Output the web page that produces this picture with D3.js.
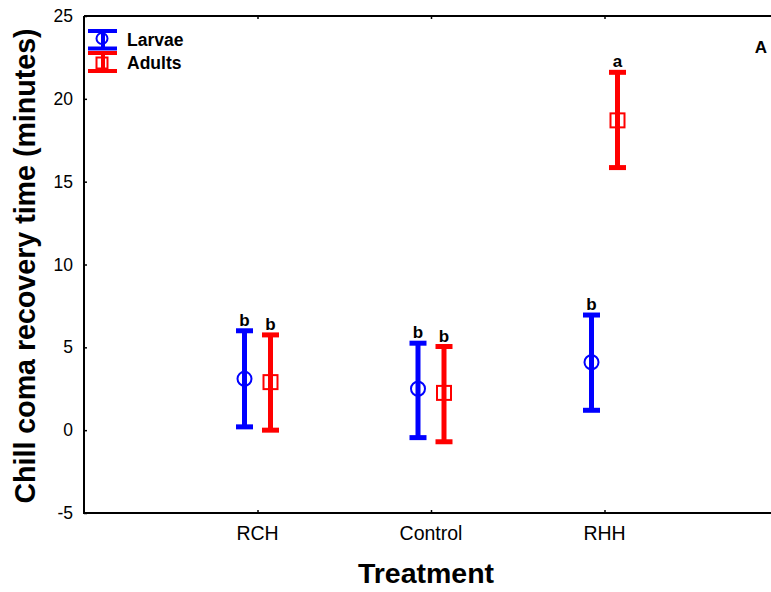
<!DOCTYPE html>
<html>
<head>
<meta charset="utf-8">
<script src="https://cdn.jsdelivr.net/npm/d3@7"></script>
<style>
  body { margin: 0; background: #fff; }
  svg { display: block; font-family: 'Liberation Sans', Arial, sans-serif; }
</style>
</head>
<body>
<svg width="771" height="592"></svg>
<script>
// chart data
const categories = ['RCH', 'Control', 'RHH']
const seriesNames = ['Larvae', 'Adults']
const larvaeMean = [3.1, 2.5, 4.1]
const larvaeLow = [0.2, -0.45, 1.2]
const larvaeHigh = [6.0, 5.25, 6.95]
const adultsMean = [2.9, 2.25, 18.7]
const adultsLow = [0.0, -0.7, 15.85]
const adultsHigh = [5.75, 5.05, 21.6]
const larvaeLetters = ['b', 'b', 'b']
const adultsLetters = ['b', 'b', 'a']
const yTicks = [-5, 0, 5, 10, 15, 20, 25]

const colors = { Larvae: '#0000ff', Adults: '#ff0000' }

const svg = d3.select('svg')

// plot area (right side runs off the page like in the figure)
const plotLeft = 84, plotTop = 16, plotBottom = 513, plotRight = 778

const x = d3.scaleLinear().domain([0, 4]).range([plotLeft, plotRight])
const offset = d3.scalePoint().domain(seriesNames).range([-13, 13])
const y = d3.scaleLinear().domain([-5, 25]).range([plotBottom, plotTop])

// build rows for each series
const rows = []
categories.forEach((c, i) => {
  rows.push({ s: 'Larvae', i, mean: larvaeMean[i], low: larvaeLow[i], high: larvaeHigh[i], letter: larvaeLetters[i] })
  rows.push({ s: 'Adults', i, mean: adultsMean[i], low: adultsLow[i], high: adultsHigh[i], letter: adultsLetters[i] })
})

// axes: left (ticks inward), bottom (ticks inward), top border with ticks
const yAxis = svg.append('g')
  .attr('transform', `translate(${plotLeft},0)`)
  .call(d3.axisRight(y).tickValues(yTicks).tickSize(3).tickFormat(''))
yAxis.select('.domain').remove()
yAxis.selectAll('line').attr('stroke', '#000').attr('stroke-width', 1.5)

svg.append('g').selectAll('text')
  .data(yTicks)
  .join('text')
  .attr('x', plotLeft - 11)
  .attr('y', (d) => y(d) + 6)
  .attr('text-anchor', 'end')
  .attr('font-size', 17.5)
  .text((d) => d)

const xAxis = svg.append('g')
  .attr('transform', `translate(0,${plotBottom})`)
  .call(d3.axisTop(x).tickValues([1, 2, 3]).tickSize(3).tickFormat(''))
xAxis.select('.domain').remove()
xAxis.selectAll('line').attr('stroke', '#000').attr('stroke-width', 1.5)

const xTop = svg.append('g')
  .attr('transform', `translate(0,${plotTop})`)
  .call(d3.axisBottom(x).tickValues([1, 2, 3]).tickSize(3).tickFormat(''))
xTop.select('.domain').remove()
xTop.selectAll('line').attr('stroke', '#000').attr('stroke-width', 1.5)

svg.append('g').selectAll('text')
  .data(categories)
  .join('text')
  .attr('x', (d, i) => x(i + 1))
  .attr('y', 540)
  .attr('text-anchor', 'middle')
  .attr('font-size', 19.5)
  .text((d) => d)

// frame
svg.append('path')
  .attr('d', `M${plotLeft},${plotTop}H${plotRight}M${plotLeft},${plotTop}V${plotBottom}H${plotRight}`)
  .attr('fill', 'none')
  .attr('stroke', '#000')
  .attr('stroke-width', 2)

// axis titles
svg.append('text')
  .attr('x', 426)
  .attr('y', 583)
  .attr('text-anchor', 'middle')
  .attr('font-size', 28.5)
  .attr('font-weight', 'bold')
  .text('Treatment')

svg.append('text')
  .attr('transform', 'translate(35,266) rotate(-90)')
  .attr('text-anchor', 'middle')
  .attr('font-size', 28.6)
  .attr('font-weight', 'bold')
  .text('Chill coma recovery time (minutes)')

// error bars
const capW = 17
const bars = svg.append('g').selectAll('g')
  .data(rows)
  .join('g')
  .attr('stroke', (d) => colors[d.s])
  .attr('fill', 'none')

bars.append('line')
  .attr('x1', (d) => x(d.i + 1) + offset(d.s))
  .attr('x2', (d) => x(d.i + 1) + offset(d.s))
  .attr('y1', (d) => y(d.low))
  .attr('y2', (d) => y(d.high))
  .attr('stroke-width', 5)

bars.selectAll('.cap')
  .data((d) => [d, d].map((r, k) => ({ r, v: k ? r.high : r.low })))
  .join('line')
  .attr('class', 'cap')
  .attr('x1', (d) => x(d.r.i + 1) + offset(d.r.s) - capW / 2)
  .attr('x2', (d) => x(d.r.i + 1) + offset(d.r.s) + capW / 2)
  .attr('y1', (d) => y(d.v))
  .attr('y2', (d) => y(d.v))
  .attr('stroke-width', 5)

// markers
bars.filter((d) => d.s === 'Larvae').append('circle')
  .attr('cx', (d) => x(d.i + 1) + offset(d.s))
  .attr('cy', (d) => y(d.mean))
  .attr('r', 7)
  .attr('stroke-width', 2)

bars.filter((d) => d.s === 'Adults').append('rect')
  .attr('x', (d) => x(d.i + 1) + offset(d.s) - 7)
  .attr('y', (d) => y(d.mean) - 7)
  .attr('width', 14)
  .attr('height', 14)
  .attr('stroke-width', 2)

// significance letters
svg.append('g').selectAll('text')
  .data(rows)
  .join('text')
  .attr('x', (d) => x(d.i + 1) + offset(d.s))
  .attr('y', (d) => y(d.high) - 5)
  .attr('text-anchor', 'middle')
  .attr('font-size', 17)
  .attr('font-weight', 'bold')
  .text((d) => d.letter)

// panel label
svg.append('text')
  .attr('x', 767)
  .attr('y', 53)
  .attr('text-anchor', 'end')
  .attr('font-size', 17)
  .attr('font-weight', 'bold')
  .text('A')

// legend
const legend = svg.append('g')
const legendRows = [
  { s: 'Larvae', y1: 31, y2: 48.5, my: 38.5, ty: 46 },
  { s: 'Adults', y1: 53, y2: 71, my: 63, ty: 69 },
]
const lg = legend.selectAll('g')
  .data(legendRows)
  .join('g')
  .attr('stroke', (d) => colors[d.s])
  .attr('fill', 'none')

lg.append('line')
  .attr('x1', 103).attr('x2', 103)
  .attr('y1', (d) => d.y1).attr('y2', (d) => d.y2)
  .attr('stroke-width', 4)
lg.append('line')
  .attr('x1', 88).attr('x2', 117)
  .attr('y1', (d) => d.y1).attr('y2', (d) => d.y1)
  .attr('stroke-width', 4)
lg.append('line')
  .attr('x1', 88).attr('x2', 117)
  .attr('y1', (d) => d.y2).attr('y2', (d) => d.y2)
  .attr('stroke-width', 4)
lg.filter((d) => d.s === 'Larvae').append('circle')
  .attr('cx', 102).attr('cy', (d) => d.my).attr('r', 5.5).attr('stroke-width', 2)
lg.filter((d) => d.s === 'Adults').append('rect')
  .attr('x', 96.5).attr('y', (d) => d.my - 5.5).attr('width', 11).attr('height', 11).attr('stroke-width', 2)
lg.append('text')
  .attr('x', 127)
  .attr('y', (d) => d.ty)
  .attr('stroke', 'none')
  .attr('fill', '#000')
  .attr('font-size', 17.5)
  .attr('font-weight', 'bold')
  .text((d) => d.s)
</script>
</body>
</html>
